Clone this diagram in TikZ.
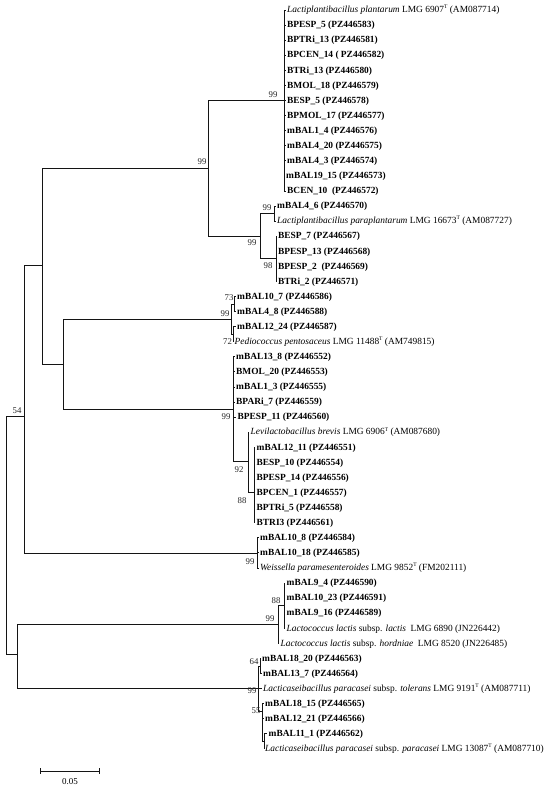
\documentclass[tikz,border=0pt]{standalone}
\usepackage{fontspec}
\setmainfont{Liberation Serif}
\usepackage{tikz}
\definecolor{branch}{HTML}{141414}
\definecolor{bootc}{HTML}{262626}
\tikzset{
  leaf/.style={anchor=west,inner xsep=1.5pt,inner ysep=0pt,text height=7pt,text depth=1.5pt,
    font=\fontsize{9.4}{10}\selectfont},
  strain/.style={leaf,font=\fontsize{9.4}{10}\selectfont\bfseries},
  bs/.style={inner sep=0pt,font=\fontsize{8.8}{9}\selectfont,text=bootc},
  br/.style={draw=branch,line width=0.85pt}
}
\newcommand{\typeT}{\raisebox{0.9ex}{\fontsize{5.5}{6}\selectfont T}}
\newcommand{\ssp}{ subsp. }

\begin{document}
\begin{tikzpicture}[x=1pt,y=-1pt]
\useasboundingbox (0,0) rectangle (550,787);
% internal nodes
\coordinate (root) at (6,535);
\coordinate (N24) at (24,416);
\coordinate (N42) at (42,265);
\coordinate (P1) at (208,168);
\coordinate (A) at (284,100.5);
\coordinate (B) at (260,236);
\coordinate (nP) at (274,213.5);
\coordinate (nQ) at (276,258.8);
\coordinate (N63) at (63,364);
\coordinate (Ped) at (231,319);
\coordinate (n73) at (234,304);
\coordinate (n72) at (233,334);
\coordinate (Levi) at (233,409);
\coordinate (n92) at (248,461.5);
\coordinate (n88) at (254,492);
\coordinate (Wei) at (257,553);
\coordinate (N17) at (17,654.5);
\coordinate (Lco) at (278,624);
\coordinate (n88b) at (284,605);
\coordinate (Lcas) at (258,688);
\coordinate (n64) at (260,666);
\coordinate (n55) at (262,711);
\coordinate (nLast) at (264,741);
% Lactiplantibacillus
\node[leaf] (l1) at (285.5,10) {\textit{Lactiplantibacillus plantarum} LMG 6907\typeT{} (AM087714)};
\node[strain] (l2) at (285.5,25.1) {BPESP\_5 (PZ446583)};
\node[strain] (l3) at (285.5,40.2) {BPTRi\_13 (PZ446581)};
\node[strain] (l4) at (285.5,55.2) {BPCEN\_14 ( PZ446582)};
\node[strain] (l5) at (285.5,70.3) {BTRi\_13 (PZ446580)};
\node[strain] (l6) at (285.5,85.4) {BMOL\_18 (PZ446579)};
\node[strain] (l7) at (285.5,100.5) {BESP\_5 (PZ446578)};
\node[strain] (l8) at (285.5,115.6) {BPMOL\_17 (PZ446577)};
\node[strain] (l9) at (285.5,130.6) {mBAL1\_4 (PZ446576)};
\node[strain] (l10) at (285.5,145.7) {mBAL4\_20 (PZ446575)};
\node[strain] (l11) at (285.5,160.8) {mBAL4\_3 (PZ446574)};
\node[strain] (l12) at (284.5,175.9) {mBAL19\_15 (PZ446573)};
\node[strain] (l13) at (285.5,191) {BCEN\_10 \ (PZ446572)};
\node[strain] (l14) at (275.5,206) {mBAL4\_6 (PZ446570)};
\node[leaf] (l15) at (275.5,221.1) {\textit{Lactiplantibacillus paraplantarum} LMG 16673\typeT{} (AM087727)};
\node[strain] (l16) at (276.5,236.2) {BESP\_7 (PZ446567)};
\node[strain] (l17) at (276.5,251.3) {BPESP\_13 (PZ446568)};
\node[strain] (l18) at (276.5,266.4) {BPESP\_2 \ (PZ446569)};
\node[strain] (l19) at (276.5,281.4) {BTRi\_2 (PZ446571)};
% Pediococcus
\node[strain] (l20) at (235.5,296.5) {mBAL10\_7 (PZ446586)};
\node[strain] (l21) at (235.5,311.6) {mBAL4\_8 (PZ446588)};
\node[strain] (l22) at (235.5,326.7) {mBAL12\_24 (PZ446587)};
\node[leaf] (l23) at (233,341.8) {\textit{Pediococcus pentosaceus} LMG 11488\typeT{} (AM749815)};
% Levilactobacillus
\node[strain] (l24) at (234.5,356.8) {mBAL13\_8 (PZ446552)};
\node[strain] (l25) at (234.5,371.9) {BMOL\_20 (PZ446553)};
\node[strain] (l26) at (234.5,387) {mBAL1\_3 (PZ446555)};
\node[strain] (l27) at (234.5,402.1) {BPARi\_7 (PZ446559)};
\node[strain] (l28) at (236,417.2) {BPESP\_11 (PZ446560)};
\node[leaf] (l29) at (249,432.2) {\textit{Levilactobacillus brevis} LMG 6906\typeT{} (AM087680)};
\node[strain] (l30) at (255,447.3) {mBAL12\_11 (PZ446551)};
\node[strain] (l31) at (255,462.4) {BESP\_10 (PZ446554)};
\node[strain] (l32) at (255,477.5) {BPESP\_14 (PZ446556)};
\node[strain] (l33) at (255,492.6) {BPCEN\_1 (PZ446557)};
\node[strain] (l34) at (255,507.6) {BPTRi\_5 (PZ446558)};
\node[strain] (l35) at (255,522.7) {BTRI3 (PZ446561)};
% Weissella
\node[strain] (l36) at (258.5,537.8) {mBAL10\_8 (PZ446584)};
\node[strain] (l37) at (258.5,552.9) {mBAL10\_18 (PZ446585)};
\node[leaf] (l38) at (258.5,568) {\textit{Weissella paramesenteroides} LMG 9852\typeT{} (FM202111)};
% Lactococcus
\node[strain] (l39) at (285,583) {mBAL9\_4 (PZ446590)};
\node[strain] (l40) at (285,598.1) {mBAL10\_23 (PZ446591)};
\node[strain] (l41) at (285,613.2) {mBAL9\_16 (PZ446589)};
\node[leaf] (l42) at (285,628.3) {\textit{Lactococcus lactis}\ssp\textit{lactis} \ LMG 6890 (JN226442)};
\node[leaf] (l43) at (279,643.4) {\textit{Lactococcus lactis}\ssp\textit{hordniae} \ LMG 8520 (JN226485)};
% Lacticaseibacillus
\node[strain] (l44) at (260.5,658.4) {mBAL18\_20 (PZ446563)};
\node[strain] (l45) at (261.5,673.5) {mBAL13\_7 (PZ446564)};
\node[leaf] (l46) at (261.5,688.6) {\textit{Lacticaseibacillus paracasei}\ssp\textit{tolerans} LMG 9191\typeT{} (AM087711)};
\node[strain] (l47) at (263.5,703.7) {mBAL18\_15 (PZ446565)};
\node[strain] (l48) at (263.5,718.8) {mBAL12\_21 (PZ446566)};
\node[strain] (l49) at (267,733.8) {mBAL11\_1 (PZ446562)};
\node[leaf] (l50) at (263.5,748.9) {\textit{Lacticaseibacillus paracasei}\ssp\textit{paracasei} LMG 13087\typeT{} (AM087710)};
% branches
\draw[br] (root) |- (N24) (root) |- (N17);
\draw[br] (N24) |- (N42) (N24) |- (Wei);
\draw[br] (N42) |- (P1) (N42) |- (N63);
\draw[br] (P1) |- (A) (P1) |- (B);
\draw[br] (A) |- (l1.west) (A) |- (l2.west) (A) |- (l3.west) (A) |- (l4.west)
  (A) |- (l5.west) (A) |- (l6.west) (A) |- (l7.west) (A) |- (l8.west) (A) |- (l9.west)
  (A) |- (l10.west) (A) |- (l11.west) (A) |- (l12.west) (A) |- (l13.west);
\draw[br] (B) |- (nP) (B) |- (nQ);
\draw[br] (nP) |- (l14.west) (nP) |- (l15.west);
\draw[br] (nQ) |- (l16.west) (nQ) |- (l17.west) (nQ) |- (l18.west) (nQ) |- (l19.west);
\draw[br] (N63) |- (Ped) (N63) |- (Levi);
\draw[br] (Ped) |- (n73) (Ped) |- (n72);
\draw[br] (n73) |- (l20.west) (n73) |- (l21.west);
\draw[br] (n72) |- (l22.west) (n72) |- (l23.west);
\draw[br] (Levi) |- (l24.west) (Levi) |- (l25.west) (Levi) |- (l26.west)
  (Levi) |- (l27.west) (Levi) |- (l28.west) (Levi) |- (n92);
\draw[br] (n92) |- (l29.west) (n92) |- (n88);
\draw[br] (n88) |- (l30.west) (n88) |- (l31.west) (n88) |- (l32.west)
  (n88) |- (l33.west) (n88) |- (l34.west) (n88) |- (l35.west);
\draw[br] (Wei) |- (l36.west) (Wei) |- (l37.west) (Wei) |- (l38.west);
\draw[br] (N17) |- (Lco) (N17) |- (Lcas);
\draw[br] (Lco) |- (n88b) (Lco) |- (l43.west);
\draw[br] (n88b) |- (l39.west) (n88b) |- (l40.west) (n88b) |- (l41.west) (n88b) |- (l42.west);
\draw[br] (Lcas) |- (n64) (Lcas) |- (l46.west) (Lcas) |- (n55);
\draw[br] (n64) |- (l44.west) (n64) |- (l45.west);
\draw[br] (n55) |- (l47.west) (n55) |- (l48.west) (n55) |- (nLast);
\draw[br] (nLast) |- (l49.west) (nLast) |- (l50.west);
% bootstrap values
\node[bs] (b1) at (273,95) {99};
\node[bs] (b2) at (202,162) {99};
\node[bs] (b3) at (267,208) {99};
\node[bs] (b4) at (252,243) {99};
\node[bs] (b5) at (268,266) {98};
\node[bs] (b6) at (229,298) {73};
\node[bs] (b7) at (225,314) {99};
\node[bs] (b8) at (227.5,342) {72};
\node[bs] (b9) at (226,417) {99};
\node[bs] (b10) at (239,470) {92};
\node[bs] (b11) at (242,501) {88};
\node[bs] (b12) at (250,562) {99};
\node[bs] (b13) at (17,411) {54};
\node[bs] (b14) at (276,601) {88};
\node[bs] (b15) at (270,619) {99};
\node[bs] (b16) at (254,662) {64};
\node[bs] (b17) at (252,691) {99};
\node[bs] (b18) at (256,711) {55};
% scale bar
\coordinate (sbL) at (40,771);
\coordinate (sbR) at (99,771);
\draw[br] (sbL) -- (sbR);
\draw[br] (40,768) -- (40,774) (99,768) -- (99,774);
\node[bs,text=black,font=\fontsize{9}{9}\selectfont] (sblab) at (70,782) {0.05};
\end{tikzpicture}
\end{document}
